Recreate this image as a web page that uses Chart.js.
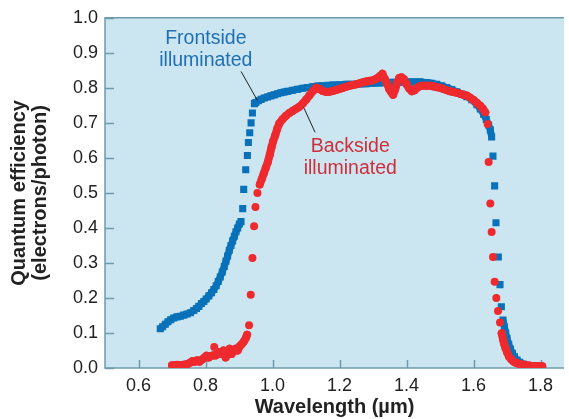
<!DOCTYPE html>
<html>
<head>
<meta charset="utf-8">
<script src="https://cdn.jsdelivr.net/npm/chart.js@4/dist/chart.umd.min.js"></script>
<style>
  html, body { margin: 0; padding: 0; background: #fff; }
  #wrap { width: 569px; height: 419px; }
</style>
</head>
<body>
<div id="wrap"><canvas id="chartQE" width="569" height="419"></canvas></div>
<script>
// ── Data ──
const xTicks = [0.6, 0.8, 1.0, 1.2, 1.4, 1.6, 1.8];
const yTicks = [0.0, 0.1, 0.2, 0.3, 0.4, 0.5, 0.6, 0.7, 0.8, 0.9, 1.0];

// Frontside illuminated (blue squares)
const frontWavelength = [
    0.665, 0.672, 0.680, 0.688, 0.696, 0.705, 0.715, 0.725, 0.735, 0.745,
    0.755, 0.765, 0.773, 0.780, 0.788, 0.795, 0.802, 0.810, 0.818, 0.825,
    0.832, 0.838, 0.844, 0.850, 0.856, 0.861, 0.866, 0.871, 0.876, 0.881,
    0.886, 0.891, 0.896, 0.901, 0.906,
    0.911, 0.914, 0.920, 0.925, 0.928, 0.932, 0.936, 0.940,
    0.946, 0.950, 0.958, 0.966, 0.975, 0.985, 0.995, 1.005, 1.015, 1.025,
    1.035, 1.045, 1.060, 1.075, 1.090, 1.105, 1.120, 1.135, 1.150, 1.165,
    1.180, 1.200, 1.220, 1.240, 1.260, 1.280, 1.300, 1.320, 1.340, 1.360,
    1.380, 1.400, 1.420, 1.440, 1.460, 1.475, 1.490, 1.505, 1.520, 1.535,
    1.550, 1.565, 1.580, 1.595, 1.610, 1.620, 1.630, 1.638, 1.645, 1.650, 1.654,
    1.658, 1.663, 1.667, 1.674, 1.679, 1.683,
    1.688, 1.692, 1.696, 1.700, 1.705, 1.710, 1.716, 1.722, 1.730, 1.738,
    1.748, 1.760, 1.772, 1.785, 1.800
];
const frontQE = [
    0.112, 0.118, 0.125, 0.132, 0.138, 0.143, 0.146, 0.148, 0.151, 0.154,
    0.158, 0.164, 0.170, 0.176, 0.184, 0.190, 0.197, 0.206, 0.215, 0.224,
    0.235, 0.247, 0.260, 0.274, 0.290, 0.305, 0.320, 0.336, 0.350, 0.363,
    0.376, 0.389, 0.400, 0.411, 0.418,
    0.455, 0.510, 0.566, 0.607, 0.644, 0.672, 0.700, 0.728,
    0.755, 0.758, 0.763, 0.767, 0.771, 0.774, 0.777, 0.780, 0.783, 0.786,
    0.788, 0.790, 0.793, 0.796, 0.799, 0.801, 0.803, 0.805, 0.806, 0.807,
    0.808, 0.809, 0.810, 0.810, 0.811, 0.812, 0.813, 0.814, 0.815, 0.816,
    0.816, 0.817, 0.817, 0.817, 0.815, 0.813, 0.810, 0.806, 0.801, 0.795,
    0.789, 0.782, 0.775, 0.766, 0.752, 0.740, 0.725, 0.710, 0.694, 0.680, 0.660,
    0.605, 0.520, 0.415, 0.317, 0.238, 0.175,
    0.137, 0.118, 0.100, 0.084, 0.068, 0.054, 0.042, 0.032, 0.023, 0.016,
    0.011, 0.008, 0.006, 0.005, 0.005
];

// Backside illuminated (red circles)
const backWavelength = [
    0.700, 0.708, 0.716, 0.724, 0.732, 0.740, 0.748, 0.755, 0.762, 0.768,
    0.775, 0.782, 0.790, 0.797, 0.803, 0.810, 0.816, 0.822, 0.826, 0.830,
    0.836, 0.842, 0.848, 0.854, 0.860, 0.866, 0.872, 0.878, 0.884, 0.890,
    0.896, 0.902, 0.908, 0.914, 0.920, 0.924,
    0.930, 0.935, 0.940, 0.945, 0.949, 0.955,
    0.962, 0.968, 0.974, 0.980, 0.986, 0.992, 0.997, 1.002, 1.008, 1.014,
    1.020, 1.030, 1.040, 1.050, 1.060, 1.070, 1.080, 1.090, 1.100, 1.110,
    1.120, 1.130, 1.140, 1.150, 1.160, 1.170, 1.180, 1.190, 1.200, 1.210,
    1.220, 1.230, 1.240, 1.250, 1.260, 1.270, 1.280, 1.290, 1.300, 1.310,
    1.320, 1.328, 1.335, 1.342, 1.348, 1.354, 1.360, 1.366, 1.372, 1.378,
    1.385, 1.392, 1.400, 1.408, 1.416, 1.424, 1.432, 1.440, 1.450, 1.460,
    1.470, 1.480, 1.490, 1.500, 1.510, 1.520, 1.530, 1.540, 1.550, 1.560,
    1.570, 1.580, 1.590, 1.600, 1.610, 1.620, 1.628, 1.635,
    1.642, 1.645, 1.650, 1.654, 1.658, 1.663, 1.668, 1.673, 1.679,
    1.684, 1.688, 1.691, 1.695, 1.700, 1.706, 1.713, 1.720, 1.728, 1.736,
    1.745, 1.755, 1.765, 1.775, 1.785, 1.795, 1.805
];
const backQE = [
    0.008, 0.008, 0.009, 0.008, 0.009, 0.010, 0.012, 0.016, 0.020, 0.018,
    0.022, 0.018, 0.024, 0.030, 0.035, 0.030, 0.034, 0.036, 0.060, 0.036,
    0.040, 0.045, 0.040, 0.050, 0.030, 0.040, 0.055, 0.040, 0.050, 0.055,
    0.050, 0.062, 0.068, 0.075, 0.085, 0.095,
    0.122, 0.209, 0.314, 0.405, 0.460, 0.500,
    0.524, 0.540, 0.556, 0.572, 0.588, 0.610, 0.630, 0.648, 0.664, 0.683,
    0.698, 0.710, 0.720, 0.728, 0.734, 0.740, 0.746, 0.755, 0.766, 0.778,
    0.790, 0.800, 0.797, 0.791, 0.788, 0.789, 0.791, 0.794, 0.797, 0.800,
    0.803, 0.806, 0.808, 0.810, 0.813, 0.816, 0.818, 0.820, 0.822, 0.826,
    0.833, 0.840, 0.825, 0.812, 0.797, 0.788, 0.780, 0.795, 0.815, 0.828,
    0.830, 0.825, 0.810, 0.798, 0.790, 0.793, 0.800, 0.805, 0.806, 0.806,
    0.806, 0.804, 0.802, 0.800, 0.797, 0.793, 0.790, 0.788, 0.786, 0.783,
    0.780, 0.778, 0.772, 0.765, 0.757, 0.749, 0.740, 0.730,
    0.697, 0.588, 0.470, 0.388, 0.317, 0.246, 0.200, 0.163, 0.130,
    0.099, 0.082, 0.070, 0.058, 0.045, 0.032, 0.024, 0.018, 0.014, 0.012,
    0.010, 0.008, 0.007, 0.006, 0.006, 0.005, 0.005
];

// Callout labels, anchored in data units
const callouts = [
    { lines: ['Frontside', 'illuminated'], x: 0.801, y: [0.925, 0.863], color: '#1f6fb2',
      leader: [[0.906, 0.847], [0.955, 0.764]] },
    { lines: ['Backside', 'illuminated'], x: 1.232, y: [0.616, 0.555], color: '#cf2e3a',
      leader: [[1.093, 0.744], [1.127, 0.673]] },
];

const BLUE = '#0871b9';
const RED = '#ee2a2e';
const AXIS = '#6f9aac';
const TEXT = '#222';
const FONT = "'Liberation Sans', Arial, Helvetica, sans-serif";

const toPoints = (xs, ys) => xs.map((x, i) => ({ x, y: ys[i] }));

// only join neighbouring points that sit close together, so the sparse
// points in the steep parts stay as separate markers
const closeSegment = color => ctx =>
    Math.hypot(ctx.p1.x - ctx.p0.x, ctx.p1.y - ctx.p0.y) > 8.5 ? 'transparent' : color;

const plotFrame = {
    id: 'plotFrame',
    beforeDatasetsDraw(chart) {
        const { ctx, chartArea: a, scales: { x, y } } = chart;
        ctx.save();
        ctx.fillStyle = '#cbe6f1';
        ctx.fillRect(a.left, a.top, a.right - a.left, a.bottom - a.top);

        ctx.strokeStyle = AXIS;
        ctx.lineWidth = 1.5;
        ctx.beginPath();
        // inward tick marks
        yTicks.forEach(v => {
            const py = Math.round(y.getPixelForValue(v)) + 0.5;
            ctx.moveTo(a.left, py);
            ctx.lineTo(a.left + 9, py);
        });
        xTicks.forEach(v => {
            const px = Math.round(x.getPixelForValue(v)) + 0.5;
            ctx.moveTo(px, a.bottom);
            ctx.lineTo(px, a.bottom - 8);
        });
        ctx.stroke();

        ctx.beginPath();
        ctx.moveTo(a.right, a.top);
        ctx.lineTo(a.left, a.top);
        ctx.lineTo(a.left, a.bottom);
        ctx.lineTo(a.right, a.bottom);
        ctx.stroke();
        ctx.restore();
    },
    afterDatasetsDraw(chart) {
        const { ctx, scales: { x, y } } = chart;
        ctx.save();
        ctx.font = '19.5px ' + FONT;
        ctx.textAlign = 'center';
        ctx.textBaseline = 'alphabetic';
        callouts.forEach(c => {
            ctx.fillStyle = c.color;
            c.lines.forEach((t, i) => ctx.fillText(t, x.getPixelForValue(c.x), y.getPixelForValue(c.y[i])));
            ctx.strokeStyle = '#222';
            ctx.lineWidth = 1;
            ctx.beginPath();
            ctx.moveTo(x.getPixelForValue(c.leader[0][0]), y.getPixelForValue(c.leader[0][1]));
            ctx.lineTo(x.getPixelForValue(c.leader[1][0]), y.getPixelForValue(c.leader[1][1]));
            ctx.stroke();
        });
        ctx.restore();
    }
};

new Chart(document.getElementById('chartQE'), {
    type: 'line',
    data: {
        datasets: [
            {
                label: 'Backside illuminated',
                data: toPoints(backWavelength, backQE),
                order: 0,
                borderColor: RED,
                backgroundColor: RED,
                borderWidth: 8,
                borderCapStyle: 'round',
                borderJoinStyle: 'round',
                pointStyle: 'circle',
                pointRadius: 4,
                pointBorderWidth: 0,
                pointBackgroundColor: RED,
                segment: { borderColor: closeSegment(RED) },
            },
            {
                label: 'Frontside illuminated',
                data: toPoints(frontWavelength, frontQE),
                order: 1,
                borderColor: BLUE,
                backgroundColor: BLUE,
                borderWidth: 7,
                borderCapStyle: 'butt',
                borderJoinStyle: 'miter',
                pointStyle: 'rect',
                pointRadius: 5,
                pointBorderWidth: 0,
                pointBackgroundColor: BLUE,
                segment: { borderColor: closeSegment(BLUE) },
            }
        ]
    },
    options: {
        responsive: false,
        animation: false,
        devicePixelRatio: 1,
        layout: { padding: { top: 17, right: 0, bottom: 0, left: 0 } },
        plugins: { legend: { display: false }, tooltip: { enabled: false } },
        scales: {
            x: {
                type: 'linear',
                min: 0.5,
                max: 1.87,
                afterBuildTicks: s => { s.ticks = xTicks.map(v => ({ value: v })); },
                afterFit: s => { s.height = 51; },
                grid: { display: false, drawTicks: false },
                border: { display: false },
                ticks: { color: TEXT, padding: 7, font: { family: FONT, size: 18 },
                         callback: v => v.toFixed(1) },
                title: { display: true, text: 'Wavelength (µm)', color: TEXT,
                         font: { family: FONT, size: 20, weight: 'bold', lineHeight: 1.1 },
                         padding: { top: 0, bottom: 1 } }
            },
            y: {
                type: 'linear',
                min: 0,
                max: 1.0,
                afterBuildTicks: s => { s.ticks = yTicks.map(v => ({ value: v })); },
                afterFit: s => { s.width = 105; },
                grid: { display: false, drawTicks: false },
                border: { display: false },
                ticks: { color: TEXT, padding: 7, font: { family: FONT, size: 18 },
                         callback: v => v.toFixed(1) },
                title: { display: true, text: ['Quantum efficiency', '(electrons/photon)'], color: TEXT,
                         font: { family: FONT, size: 20, weight: 'bold', lineHeight: 1.05 },
                         padding: { top: 9, bottom: 0 } }
            }
        }
    },
    plugins: [plotFrame]
});
</script>
</body>
</html>
